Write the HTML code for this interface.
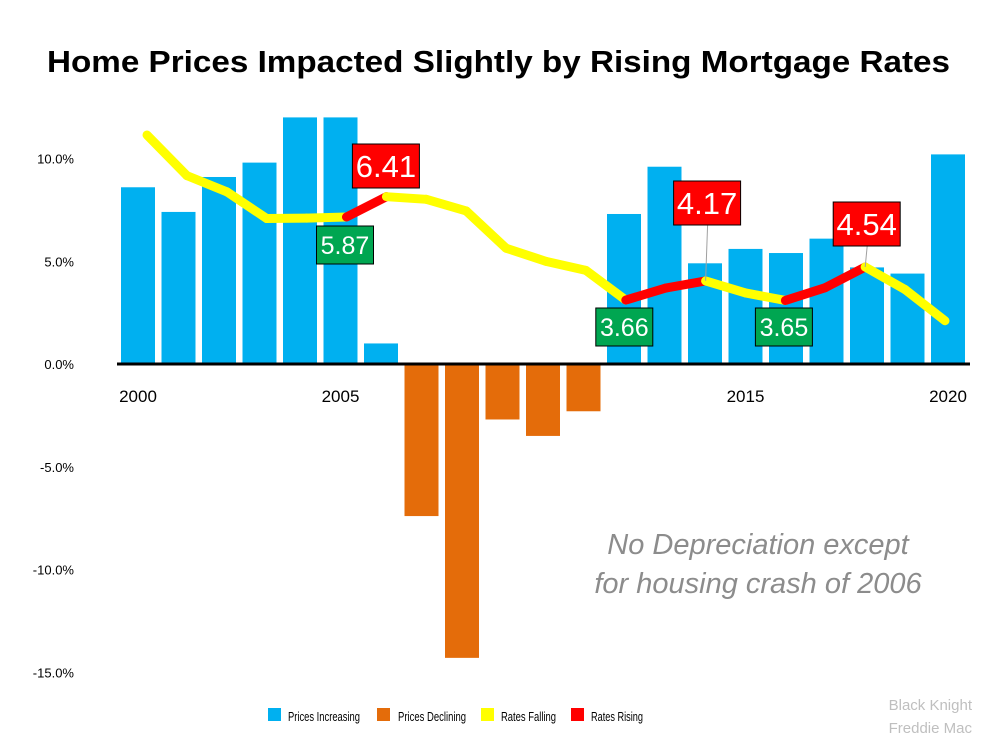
<!DOCTYPE html>
<html><head><meta charset="utf-8"><style>
body{margin:0;background:#fff;}
svg text{font-family:"Liberation Sans",sans-serif;}
</style></head><body>
<svg id="chart" width="1000" height="750" viewBox="0 0 1000 750">
<text x="47" y="72" textLength="903" lengthAdjust="spacingAndGlyphs" font-size="31" font-weight="bold" fill="#000">Home Prices Impacted Slightly by Rising Mortgage Rates</text>
<g id="yaxis"></g><g id="bars"></g><g id="lines"></g><g id="labels"></g>
<text x="758" y="554" text-anchor="middle" font-size="29" font-style="italic" fill="#8c8c8c">No Depreciation except</text>
<text x="758" y="593" text-anchor="middle" font-size="29" font-style="italic" fill="#8c8c8c">for housing crash of 2006</text>
<g font-size="13" fill="#000">
<rect x="268" y="708" width="13" height="13" fill="#00b0f0"/>
<text x="288" y="721" textLength="72" lengthAdjust="spacingAndGlyphs">Prices Increasing</text>
<rect x="377" y="708" width="13" height="13" fill="#e46c0a"/>
<text x="398" y="721" textLength="68" lengthAdjust="spacingAndGlyphs">Prices Declining</text>
<rect x="481" y="708" width="13" height="13" fill="#ffff00"/>
<text x="501" y="721" textLength="55" lengthAdjust="spacingAndGlyphs">Rates Falling</text>
<rect x="571" y="708" width="13" height="13" fill="#ff0000"/>
<text x="591" y="721" textLength="52" lengthAdjust="spacingAndGlyphs">Rates Rising</text>
</g>
<text x="972" y="710" text-anchor="end" font-size="15" fill="#bfbfbf">Black Knight</text>
<text x="972" y="733" text-anchor="end" font-size="15" fill="#bfbfbf">Freddie Mac</text>
</svg>
<script>
const years=[2000,2001,2002,2003,2004,2005,2006,2007,2008,2009,2010,2011,2012,2013,2014,2015,2016,2017,2018,2019,2020];
const priceChange=[8.6,7.4,9.1,9.8,12.0,12.0,1.0,-7.4,-14.3,-2.7,-3.5,-2.3,7.3,9.6,4.9,5.6,5.4,6.1,4.7,4.4,10.2];
const rates=[8.05,6.97,6.54,5.83,5.84,5.87,6.41,6.34,6.03,5.04,4.69,4.45,3.66,3.98,4.17,3.85,3.65,3.99,4.54,3.94,3.11];
const risingYears=[2006,2013,2014,2017,2018];
const callouts=[{year:2005,label:"5.87",rise:false},{year:2006,label:"6.41",rise:true},{year:2012,label:"3.66",rise:false},{year:2014,label:"4.17",rise:true},{year:2016,label:"3.65",rise:false},{year:2018,label:"4.54",rise:true}];
const yTicks=[10,5,0,-5,-10,-15];
const xTicks=[2000,2005,2015,2020];
const NS="http://www.w3.org/2000/svg";
const X=y=>138+(y-2000)*40.5;
const LX=y=>147+(y-2000)*39.9;
const Y=v=>364-v*20.55;
const R=r=>437.7-r*37.6;
function mk(t,a,p){const e=document.createElementNS(NS,t);for(const k in a)e.setAttribute(k,a[k]);document.getElementById(p).appendChild(e);return e;}
yTicks.forEach(v=>{const t=mk('text',{x:74,y:Y(v)+5,'text-anchor':'end','font-size':13},'yaxis');t.textContent=v.toFixed(1)+'%';

});
xTicks.forEach(y=>{const t=mk('text',{x:X(y),y:402,'text-anchor':'middle','font-size':17},'yaxis');t.textContent=y;

});
years.forEach((y,i)=>{const v=priceChange[i];const b=mk('rect',{x:X(y)-17,width:34,y:v>=0?Y(v):Y(0),height:Math.abs(Y(v)-Y(0)),fill:v>=0?'#00b0f0':'#e46c0a'},'bars');

});
const ax=mk('line',{x1:117,x2:970,y1:Y(0),y2:Y(0),stroke:'#000','stroke-width':3},'bars');


for(let i=1;i<years.length;i++){const rise=risingYears.includes(years[i]);
const l=mk('line',{x1:LX(years[i-1]),y1:R(rates[i-1]),x2:LX(years[i]),y2:R(rates[i]),stroke:rise?'#ff0000':'#ffff00','stroke-width':9,'stroke-linecap':'round'},'lines');

}
callouts.forEach(c=>{const i=years.indexOf(c.year);const px=LX(c.year),py=R(rates[i]);
let bx,by,w=c.rise?67:57,h=c.rise?44:38;
if(c.rise){bx=c.year===2006?px-34:px-32;by=c.year===2006?144:(c.year===2014?181:202);
if(c.year!==2006){const ll=mk('line',{x1:px,y1:py,x2:px+2,y2:by+h,stroke:'#a0a0a0','stroke-width':1},'labels');}}
else{bx=px-30;by=c.year===2005?226:308;}
const r=mk('rect',{x:bx,y:by,width:w,height:h,fill:c.rise?'#ff0000':'#00a651',stroke:'#000','stroke-width':1},'labels');


const t=mk('text',{x:bx+w/2,y:by+h/2+(c.rise?11:9),'text-anchor':'middle','font-size':c.rise?31:25,fill:'#fff'},'labels');t.textContent=c.label;

});
</script>
</body></html>
